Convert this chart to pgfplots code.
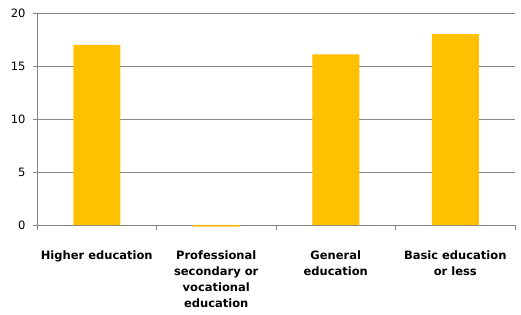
\documentclass[border=0pt]{standalone}
\usepackage{fontspec}
\setmainfont{DejaVu Sans}
\usepackage{pgfplots}
\pgfplotsset{compat=1.18}
\definecolor{bargold}{RGB}{255,192,0}
\definecolor{gridgray}{RGB}{134,134,134}
\begin{document}
\begin{tikzpicture}
\begin{axis}[
  scale only axis,
  width=478pt, height=212pt,
  xmin=-0.5, xmax=3.5,
  ymin=0, ymax=20,
  ytick={0,5,10,15,20},
  xtick={0,1,2,3},
  xticklabels={{Higher education},{Professional\\secondary or\\vocational\\education},{General\\education},{Basic education\\or less}},
  minor xtick={-0.5,0.5,1.5,2.5,3.5},
  major x tick style={draw=none},
  minor x tick style={draw=gridgray, line width=0.8pt},
  xminorgrids=false,
  ymajorgrids,
  grid style={draw=gridgray, line width=0.8pt},
  axis x line*=bottom, axis y line*=left,
  axis line style={draw=gridgray, line width=0.8pt, -},
  y tick style={draw=gridgray, line width=0.8pt},
  tick align=outside,
  major tick length=4pt, minor tick length=5pt,
  clip=false,
  xticklabel style={font=\fontsize{11.5}{16}\selectfont\bfseries, align=center, anchor=north, yshift=-18pt},
  yticklabel style={font=\fontsize{11.5}{12}\selectfont, xshift=-4pt},
  /pgf/number format/assume math mode=true,
  ybar, bar width=47pt,
]
\addplot[fill=bargold, draw=none] coordinates {(0,17.0) (1,-0.15) (2,16.1) (3,18.0)};
\end{axis}
\pgfresetboundingbox
\path[use as bounding box] (-37pt,-89pt) rectangle (484pt,225pt);
\end{tikzpicture}
\end{document}
